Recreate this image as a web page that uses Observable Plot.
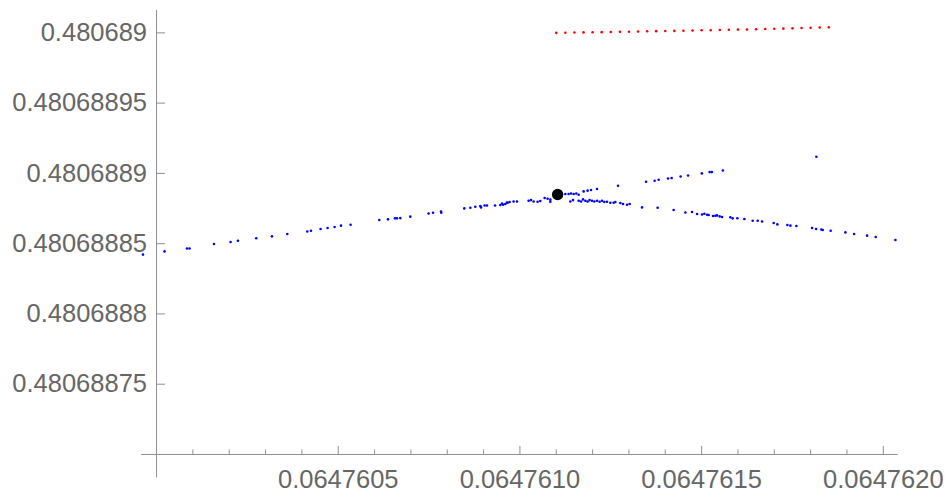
<!DOCTYPE html>
<html>
<head>
<meta charset="utf-8">
<script src="https://cdn.jsdelivr.net/npm/d3@7"></script>
<script src="https://cdn.jsdelivr.net/npm/@observablehq/plot@0.6"></script>
<style>
  html, body { margin: 0; padding: 0; background: #fff; }
  #chart svg { display: block; }
</style>
</head>
<body>
<div id="chart"></div>
<script>
// ---- plot range ----
const xDomain = [0.0647599586, 0.0647620410];
const yDomain = [0.4806886834, 0.4806890159];
const xOrigin = 0.06476;
const yOrigin = 0.4806887;

// ---- ticks ----
const xMajorTicks = [0.0647605, 0.0647610, 0.0647615, 0.0647620];
const xTickLabels = ["0.0647605", "0.0647610", "0.0647615", "0.0647620"];
const xMinorTicks = [0.0647601, 0.0647602, 0.0647603, 0.0647604,
                     0.0647606, 0.0647607, 0.0647608, 0.0647609,
                     0.0647611, 0.0647612, 0.0647613, 0.0647614,
                     0.0647616, 0.0647617, 0.0647618, 0.0647619];
const yMajorTicks = [0.48068875, 0.4806888, 0.48068885, 0.4806889, 0.48068895, 0.480689];
const yTickLabels = ["0.48068875", "0.4806888", "0.48068885", "0.4806889", "0.48068895", "0.480689"];

// ---- blue points ----
const blueX = [
  0.0647599626, 0.0647600220, 0.0647600837, 0.0647600908, 0.0647601580, 0.0647602037,
  0.0647602241, 0.0647602744, 0.0647603176, 0.0647603598, 0.0647604148, 0.0647604250,
  0.0647604514, 0.0647604707, 0.0647604900, 0.0647605076, 0.0647605340, 0.0647606130,
  0.0647606369, 0.0647606562, 0.0647606617, 0.0647606708, 0.0647606983, 0.0647607487,
  0.0647607608, 0.0647607828, 0.0647607836, 0.0647608469, 0.0647608635, 0.0647608772,
  0.0647608910, 0.0647608929, 0.0647609028, 0.0647609094, 0.0647609315, 0.0647609460,
  0.0647609507, 0.0647609535, 0.0647609598, 0.0647609645, 0.0647609661, 0.0647609716,
  0.0647609826, 0.0647609920, 0.0647610239, 0.0647610305, 0.0647610377, 0.0647610487,
  0.0647610561, 0.0647610680, 0.0647610762, 0.0647610837, 0.0647610837,
  0.0647611250, 0.0647611340, 0.0647611406, 0.0647611478, 0.0647611552, 0.0647611616,
  0.0647611753, 0.0647611863, 0.0647611957, 0.0647612122, 0.0647612700, 0.0647613471,
  0.0647613708, 0.0647613818, 0.0647614076, 0.0647614175, 0.0647614423, 0.0647614627,
  0.0647615007, 0.0647615221, 0.0647615282, 0.0647615585, 0.0647618158,
  0.0647611387, 0.0647611461, 0.0647611616, 0.0647611682, 0.0647611737, 0.0647611800,
  0.0647611863, 0.0647611918, 0.0647611984, 0.0647612048, 0.0647612122, 0.0647612194,
  0.0647612260, 0.0647612323, 0.0647612397, 0.0647612488, 0.0647612579, 0.0647612626,
  0.0647612763, 0.0647612838, 0.0647612948, 0.0647613019, 0.0647613361, 0.0647613790,
  0.0647614230, 0.0647614553, 0.0647614737, 0.0647614875, 0.0647615012, 0.0647615075,
  0.0647615150, 0.0647615194, 0.0647615315, 0.0647615378, 0.0647615425, 0.0647615497,
  0.0647615563, 0.0647615791, 0.0647615854, 0.0647615984, 0.0647616177, 0.0647616405,
  0.0647616543, 0.0647616664, 0.0647616983, 0.0647617085, 0.0647617360, 0.0647617443,
  0.0647617608, 0.0647618040, 0.0647618150, 0.0647618296, 0.0647618332, 0.0647618552,
  0.0647618957, 0.0647619196, 0.0647619554, 0.0647619791, 0.0647620333
];
const blueY = [
  0.4806888422, 0.4806888445, 0.4806888466, 0.4806888466, 0.4806888498, 0.4806888512,
  0.4806888521, 0.4806888538, 0.4806888552, 0.4806888569, 0.4806888587, 0.4806888592,
  0.4806888604, 0.4806888611, 0.4806888619, 0.4806888628, 0.4806888635, 0.4806888668,
  0.4806888673, 0.4806888680, 0.4806888680, 0.4806888682, 0.4806888692, 0.4806888715,
  0.4806888720, 0.4806888729, 0.4806888720, 0.4806888751, 0.4806888756, 0.4806888763,
  0.4806888768, 0.4806888758, 0.4806888772, 0.4806888772, 0.4806888772, 0.4806888775,
  0.4806888786, 0.4806888777, 0.4806888782, 0.4806888793, 0.4806888791, 0.4806888796,
  0.4806888800, 0.4806888800, 0.4806888805, 0.4806888810, 0.4806888800, 0.4806888798,
  0.4806888803, 0.4806888825, 0.4806888820, 0.4806888813, 0.4806888798,
  0.4806888853, 0.4806888853, 0.4806888857, 0.4806888853, 0.4806888857, 0.4806888848,
  0.4806888872, 0.4806888877, 0.4806888882, 0.4806888889, 0.4806888912, 0.4806888941,
  0.4806888948, 0.4806888955, 0.4806888964, 0.4806888967, 0.4806888978, 0.4806888985,
  0.4806889000, 0.4806889009, 0.4806889009, 0.4806889021, 0.4806889118,
  0.4806888800, 0.4806888810, 0.4806888805, 0.4806888800, 0.4806888815, 0.4806888805,
  0.4806888800, 0.4806888810, 0.4806888805, 0.4806888800, 0.4806888805, 0.4806888798,
  0.4806888805, 0.4806888796, 0.4806888798, 0.4806888791, 0.4806888791, 0.4806888796,
  0.4806888789, 0.4806888782, 0.4806888777, 0.4806888782, 0.4806888758, 0.4806888756,
  0.4806888739, 0.4806888722, 0.4806888725, 0.4806888711, 0.4806888708, 0.4806888713,
  0.4806888706, 0.4806888704, 0.4806888697, 0.4806888699, 0.4806888701, 0.4806888694,
  0.4806888690, 0.4806888688, 0.4806888680, 0.4806888681, 0.4806888675, 0.4806888663,
  0.4806888663, 0.4806888658, 0.4806888647, 0.4806888637, 0.4806888633, 0.4806888628,
  0.4806888626, 0.4806888611, 0.4806888604, 0.4806888601, 0.4806888597, 0.4806888592,
  0.4806888580, 0.4806888569, 0.4806888557, 0.4806888547, 0.4806888526
];

// ---- red points ----
const redX = [
  0.064761100, 0.064761125, 0.064761150, 0.064761175, 0.064761200, 0.064761225,
  0.064761250, 0.064761275, 0.064761300, 0.064761325, 0.064761350, 0.064761375,
  0.064761400, 0.064761425, 0.064761450, 0.064761475, 0.064761500, 0.064761525,
  0.064761550, 0.064761575, 0.064761600, 0.064761625, 0.064761650, 0.064761675,
  0.064761700, 0.064761725, 0.064761750, 0.064761775, 0.064761800, 0.064761825,
  0.064761850
];
const redY = [
  0.4806890000, 0.4806890001, 0.4806890002, 0.4806890003, 0.4806890004, 0.4806890005,
  0.4806890006, 0.4806890007, 0.4806890008, 0.4806890010, 0.4806890011, 0.4806890012,
  0.4806890013, 0.4806890014, 0.4806890015, 0.4806890017, 0.4806890018, 0.4806890019,
  0.4806890020, 0.4806890022, 0.4806890023, 0.4806890024, 0.4806890026, 0.4806890027,
  0.4806890029, 0.4806890030, 0.4806890032, 0.4806890034, 0.4806890036, 0.4806890038,
  0.4806890040
];

// ---- highlighted point ----
const blackX = [0.0647611038];
const blackY = [0.4806888850];

const blue = blueX.map((x, i) => ({x, y: blueY[i]}));
const red = redX.map((x, i) => ({x, y: redY[i]}));
const black = blackX.map((x, i) => ({x, y: blackY[i]}));

const axisColor = "#8f8f8f";
const labelColor = "#666666";
const fontSize = 25.5;

const chart = Plot.plot({
  width: 949,
  height: 497,
  marginLeft: 141,
  marginRight: 51.3,
  marginTop: 10,
  marginBottom: 19.7,
  style: {background: "#fff", fontFamily: "'Liberation Sans', Arial, Helvetica, sans-serif", overflow: "visible"},
  x: {domain: xDomain, axis: null},
  y: {domain: yDomain, axis: null},
  marks: [
    // axes lines
    Plot.ruleY([yOrigin], {y: d => d, x1: xDomain[0], x2: xDomain[1], stroke: axisColor, strokeWidth: 1}),
    Plot.ruleX([xOrigin], {x: d => d, y1: yDomain[0], y2: yDomain[1], stroke: axisColor, strokeWidth: 1}),
    // x ticks (inward)
    Plot.ruleX(xMajorTicks, {x: d => d, y1: yOrigin, y2: yOrigin, insetTop: -8, stroke: axisColor}),
    Plot.ruleX(xMinorTicks, {x: d => d, y1: yOrigin, y2: yOrigin, insetTop: -4.5, stroke: axisColor}),
    // y ticks (inward)
    Plot.ruleY(yMajorTicks, {y: d => d, x1: xOrigin, x2: xOrigin, insetRight: -9, stroke: axisColor}),
    // tick labels
    Plot.text(xMajorTicks, {x: d => d, y: yOrigin, text: (d, i) => xTickLabels[i], dy: 25.5,
      fontSize, fill: labelColor, textAnchor: "middle"}),
    Plot.text(yMajorTicks, {x: xOrigin, y: d => d, text: (d, i) => yTickLabels[i], dx: -9.5,
      fontSize, fill: labelColor, textAnchor: "end"}),
    // data
    Plot.dot(blue, {x: "x", y: "y", r: 1.3, fill: "#0000ff", stroke: "none"}),
    Plot.dot(red, {x: "x", y: "y", r: 1.3, fill: "#ff0000", stroke: "none"}),
    Plot.dot(black, {x: "x", y: "y", r: 5.7, fill: "#000000", stroke: "none"})
  ]
});
document.getElementById("chart").appendChild(chart);
</script>
</body>
</html>
